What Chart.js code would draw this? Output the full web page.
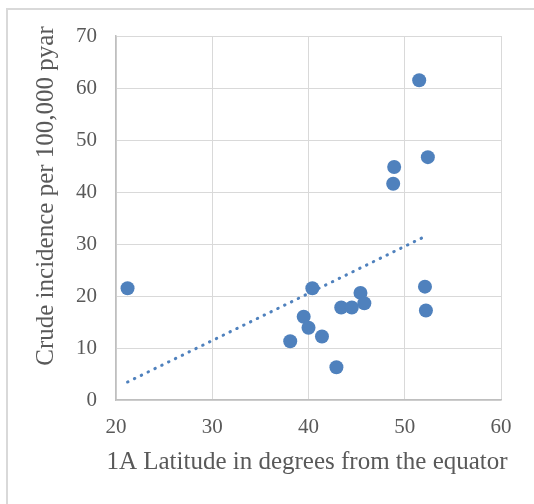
<!DOCTYPE html>
<html>
<head>
<meta charset="utf-8">
<script src="https://cdn.jsdelivr.net/npm/chart.js@4/dist/chart.umd.min.js"></script>
<style>
  html, body { margin: 0; padding: 0; background: #ffffff; }
  #wrap { position: relative; width: 534px; height: 504px; overflow: hidden; }
  #frame { position: absolute; left: 6px; top: 8px; width: 600px; height: 600px;
           border-left: 2px solid #d9d9d9; border-top: 2px solid #d9d9d9; box-sizing: border-box; }
  canvas { position: absolute; left: 0; top: 0; }
</style>
</head>
<body>
<div id="wrap">
  <div id="frame"></div>
  <canvas id="c" width="534" height="504"></canvas>
</div>
<script>
// ---- data ----
const latitude  = [21.2, 38.1, 39.5, 40.0, 40.4, 41.4, 42.9, 43.4, 44.5, 45.4, 45.8, 48.8, 48.9, 51.5, 52.1, 52.2, 52.4];
const incidence = [21.5, 11.3, 16.0, 13.9, 21.5, 12.2, 6.3, 17.8, 17.8, 20.6, 18.6, 41.6, 44.8, 61.5, 21.8, 17.2, 46.7];
const trendX = [21.2, 52.15];
const trendY = [3.46, 31.5];
const xTicks = [20, 30, 40, 50, 60];
const yTicks = [0, 10, 20, 30, 40, 50, 60, 70];
const xTitle = '1A Latitude in degrees from the equator';
const yTitle = 'Crude incidence per 100,000 pyar';

const blue = 'rgb(79,129,189)';
const textColor = '#595959';
const serif = '"Liberation Serif", "Times New Roman", serif';

const points = latitude.map((x, i) => ({ x: x, y: incidence[i] }));
const trend = trendX.map((x, i) => ({ x: x, y: trendY[i] }));

const titlePlugin = {
  id: 'axisTitles',
  afterDraw(chart) {
    const ctx = chart.ctx;
    ctx.save();
    ctx.fillStyle = textColor;
    ctx.font = '25px ' + serif;
    ctx.textAlign = 'center';
    ctx.textBaseline = 'alphabetic';
    ctx.fillText(xTitle, 307, 469);
    ctx.translate(53, 196);
    ctx.rotate(-Math.PI / 2);
    ctx.fillText(yTitle, 0, 0);
    ctx.restore();
  }
};

new Chart(document.getElementById('c'), {
  type: 'scatter',
  data: {
    datasets: [
      {
        label: 'Incidence',
        data: points,
        backgroundColor: blue,
        borderColor: blue,
        pointRadius: 7,
        pointHoverRadius: 7,
        borderWidth: 0,
        order: 0
      },
      {
        type: 'line',
        label: 'Trend',
        data: trend,
        borderColor: blue,
        borderWidth: 3,
        borderDash: [0.5, 7.1],
        borderCapStyle: 'round',
        pointRadius: 0,
        fill: false,
        order: 1
      }
    ]
  },
  options: {
    responsive: false,
    animation: false,
    devicePixelRatio: 1,
    layout: { padding: { top: 36, right: 33, left: 0, bottom: 0 } },
    plugins: { legend: { display: false }, tooltip: { enabled: false } },
    scales: {
      x: {
        type: 'linear',
        min: 20, max: 60,
        afterBuildTicks(s) { s.ticks = xTicks.map(v => ({ value: v })); },
        afterFit(s) { s.height = 104; },
        grid: { color: '#d9d9d9', lineWidth: 1, drawTicks: false },
        border: { color: '#bfbfbf', width: 1.5 },
        ticks: { color: textColor, font: { family: serif, size: 21 }, padding: 15 }
      },
      y: {
        type: 'linear',
        min: 0, max: 70,
        afterBuildTicks(s) { s.ticks = yTicks.map(v => ({ value: v })); },
        afterFit(s) { s.width = 116; },
        grid: { color: '#d9d9d9', lineWidth: 1, drawTicks: false },
        border: { color: '#bfbfbf', width: 1.5 },
        ticks: { color: textColor, font: { family: serif, size: 21 }, padding: 19 }
      }
    }
  },
  plugins: [titlePlugin]
});
</script>
</body>
</html>
